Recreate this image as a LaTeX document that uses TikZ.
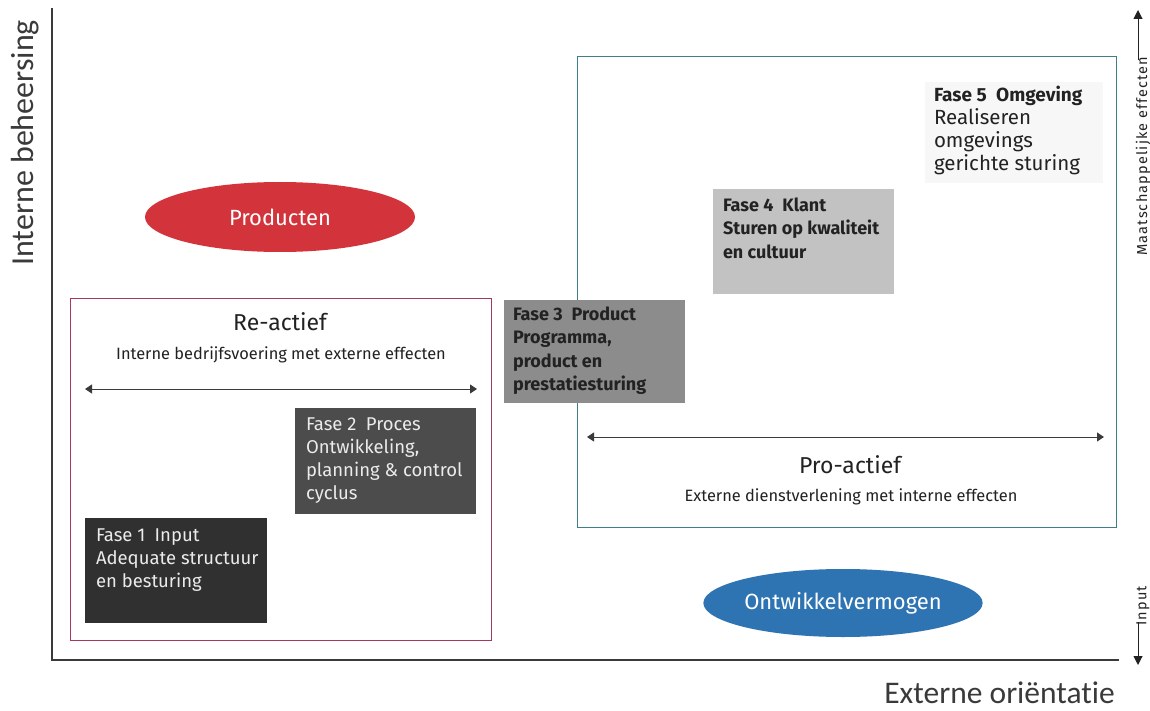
\documentclass[tikz,border=0pt]{standalone}
\usepackage{fontspec}
\setmainfont{Fira Sans}
\newfontfamily\axisfont[Ligatures=NoCommon]{Carlito}
\newfontfamily\sidefont[LetterSpace=8]{Fira Sans}
\usetikzlibrary{arrows.meta,shapes.geometric}
\definecolor{redfill}{HTML}{D3343C}
\definecolor{bluefill}{HTML}{2F74B2}
\definecolor{reborder}{HTML}{A8385A}
\definecolor{proborder}{HTML}{3F7F88}
\definecolor{fone}{HTML}{2F302F}
\definecolor{ftwo}{HTML}{4B4C4B}
\definecolor{fthree}{HTML}{8C8C8C}
\definecolor{ffour}{HTML}{C2C2C2}
\definecolor{ffive}{HTML}{F7F7F7}
\definecolor{axiscol}{HTML}{3A3A3A}
\definecolor{txtdark}{HTML}{222222}
\begin{document}
\begin{tikzpicture}[x=1pt,y=-1pt,
  faseBox/.style={rectangle, draw=none, inner sep=0pt},
  faseText/.style={anchor=north west, align=left, inner sep=0pt, font=\fontsize{18.5}{23}\selectfont},
  faseBold/.style={faseText, font=\bfseries\fontsize{18}{23.3}\selectfont},
  dbl/.style={{Triangle[width=9pt,length=7pt]}-{Triangle[width=9pt,length=7pt]}, line width=1pt, draw=axiscol},
  oval/.style={ellipse, inner sep=0pt, draw=none, text=white, font=\fontsize{22}{24}\selectfont},
  titletext/.style={font=\fontsize{23}{25}\selectfont, text=txtdark},
  subtext/.style={font=\fontsize{16.4}{18}\selectfont, text=txtdark},
  sidetext/.style={rotate=90, font=\sidefont\fontsize{14.5}{15}\selectfont, text=txtdark, anchor=west, inner sep=0pt},
  sidearrow/.style={-{Triangle[width=9pt,length=9pt]}, line width=1pt, draw=txtdark}
]
\useasboundingbox (0,0) rectangle (1150,711);
\fill[white] (0,0) rectangle (1150,711);

% axes
\coordinate (origin) at (52,660);
\coordinate (ytop) at (52,8);
\coordinate (xend) at (1119,660);
\draw[axiscol, line width=1.3pt] (ytop) -- (origin) -- (xend);
\node[rotate=90, font=\axisfont\fontsize{32}{34}\selectfont, text=axiscol, anchor=base west, inner sep=0pt] (ylab) at (33,266) {Interne beheersing};
\node[font=\axisfont\fontsize{31.5}{33}\selectfont, text=axiscol, anchor=base east, inner sep=0pt] (xlab) at (1115,703) {Externe oriëntatie};

% right side labels
\node[sidetext] (maat) at (1143,256) {Maatschappelijke effecten};
\coordinate (maattip) at (1138,10);
\draw[sidearrow] ([yshift=-4pt]maat.east -| maattip) -- (maattip);
\node[sidetext] (inp) at (1143,626) {Input};
\coordinate (inptip) at (1138,665);
\draw[sidearrow] ([yshift=4pt]inp.west -| inptip) -- (inptip);

% ellipses
\node[oval, fill=redfill, minimum width=270pt, minimum height=70pt] (prod) at (280,217) {Producten};
\node[oval, fill=bluefill, minimum width=272pt, minimum height=68pt] (ontw) at (843,603) {Ontwikkelvermogen};

% Re-actief frame
\node[draw=reborder, line width=1pt, minimum width=421pt, minimum height=342pt, inner sep=0pt] (re) at (280.5,469) {};
\node[titletext] (retitle) at (280,322) {Re-actief};
\node[subtext] (resub) at (281,355) {Interne bedrijfsvoering met externe effecten};
\coordinate (rea) at (85,389);
\coordinate (reb) at (477,389);
\draw[dbl] (rea) -- (reb);

% Pro-actief frame
\node[draw=proborder, line width=1pt, minimum width=539pt, minimum height=470pt, inner sep=0pt] (pro) at (846.5,292) {};
\coordinate (proa) at (587,437);
\coordinate (prob) at (1104,437);
\draw[dbl] (proa) -- (prob);
\node[titletext] (protitle) at (850,465) {Pro-actief};
\node[subtext] (prosub) at (851,497) {Externe dienstverlening met interne effecten};

% Fase boxes
\node[faseBox, fill=fone, minimum width=182pt, minimum height=105pt] (f1) at (176,570.5) {};
\node[faseText, text=white!92!black] at ([xshift=11pt,yshift=-11pt]f1.north west) {Fase 1\enspace Input\\Adequate structuur\\en besturing};

\node[faseBox, fill=ftwo, minimum width=181pt, minimum height=106pt] (f2) at (385.5,461) {};
\node[faseText, text=white!92!black] at ([xshift=11pt,yshift=-10pt]f2.north west) {Fase 2\enspace Proces\\Ontwikkeling,\\planning \& control\\cyclus};

\node[faseBox, fill=fthree, minimum width=181pt, minimum height=103pt] (f3) at (594.5,351.5) {};
\node[faseBold, text=txtdark] at ([xshift=9pt,yshift=-7pt]f3.north west) {Fase 3\enspace Product\\Programma,\\product en\\prestatiesturing};

\node[faseBox, fill=ffour, minimum width=181pt, minimum height=105pt] (f4) at (803.5,241.5) {};
\node[faseBold, text=txtdark] at ([xshift=10pt,yshift=-9pt]f4.north west) {Fase 4\enspace Klant\\Sturen op kwaliteit\\en cultuur};

\node[faseBox, fill=ffive, minimum width=178pt, minimum height=101pt] (f5) at (1014,132.5) {};
\node[faseText, text=txtdark, font=\fontsize{20.5}{23}\selectfont] at ([xshift=9pt,yshift=-4pt]f5.north west) {\textbf{\fontsize{19}{23}\selectfont Fase 5\enspace Omgeving}\\Realiseren\\omgevings\\gerichte sturing};
\end{tikzpicture}
\end{document}
